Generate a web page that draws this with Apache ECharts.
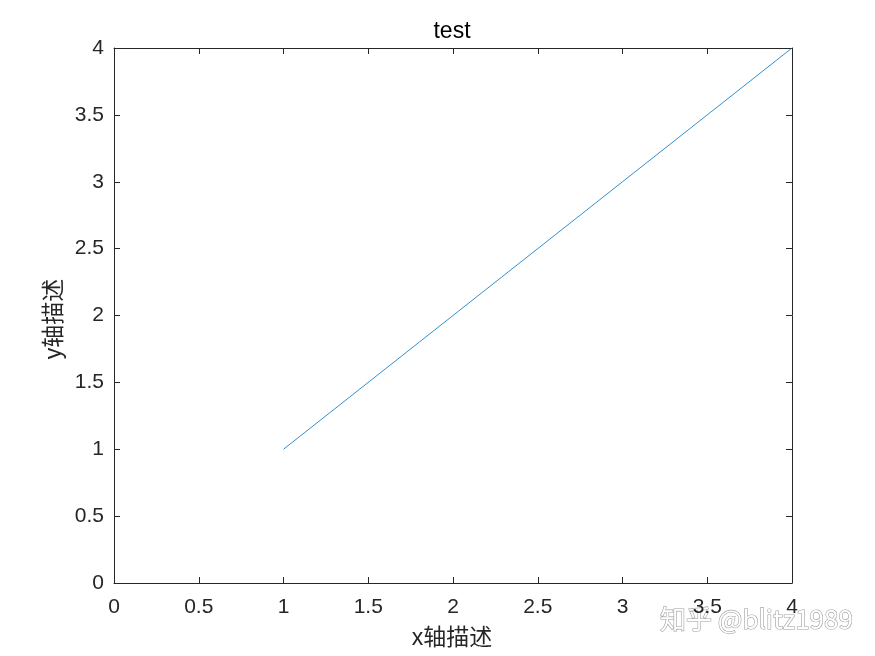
<!DOCTYPE html>
<html>
<head>
<meta charset="utf-8">
<script src="https://cdn.jsdelivr.net/npm/echarts@6/dist/echarts.min.js"></script>
<style>html,body{margin:0;padding:0;background:#fff;}#c{width:875px;height:656px;}</style>
</head>
<body>
<div id="c"></div>
<script>
var xValues = [1, 2, 3, 4];
var yValues = [1, 2, 3, 4];
var titleText = 'test';
var xName = 'x轴描述';
var yName = 'y轴描述';
var watermark = '知乎 @blitz1989';

var axisColor = '#262626';
var font = '"Liberation Sans", Arial, "Noto Sans CJK SC", sans-serif';

function axisBase(show) {
  return {
    type: 'value', min: 0, max: 4, interval: 0.5,
    axisLine: { show: true, onZero: false, lineStyle: { color: axisColor, width: 1 } },
    axisTick: { show: true, inside: true, length: 6, lineStyle: { color: axisColor, width: 1 } },
    axisLabel: { show: show, color: axisColor, fontSize: 21, fontFamily: font, margin: 10 },
    splitLine: { show: false }
  };
}
var xb = axisBase(true); xb.position = 'bottom';
var xt = axisBase(false); xt.position = 'top';
var yl = axisBase(true); yl.position = 'left';
var yr = axisBase(false); yr.position = 'right';
xb.axisLabel.margin = 14;

var chart = echarts.init(document.getElementById('c'));
chart.setOption({
  animation: false,
  backgroundColor: '#fff',
  grid: { left: 114, right: 83, top: 48, bottom: 73, containLabel: false },
  xAxis: [xb, xt],
  yAxis: [yl, yr],
  graphic: [
    { type: 'text', x: 452, y: 32, style: { text: titleText, fill: '#000', fontSize: 23, fontFamily: font, align: 'center', verticalAlign: 'middle' } },
    { type: 'text', x: 452, y: 639, style: { text: xName, fill: '#262626', fontSize: 23, fontFamily: font, align: 'center', verticalAlign: 'middle' } },
    { type: 'text', x: 55, y: 319, rotation: Math.PI / 2, style: { text: yName, fill: '#262626', fontSize: 23, fontFamily: font, align: 'center', verticalAlign: 'middle' } },
    { type: 'text', x: 660, y: 619, style: { text: watermark, fill: '#ffffff', stroke: '#a0a0a0', lineWidth: 1.2, fontSize: 26, fontFamily: '"Noto Sans CJK SC", sans-serif', verticalAlign: 'middle', shadowColor: 'rgba(0,0,0,0.35)', shadowOffsetX: 1, shadowOffsetY: 1, shadowBlur: 1 } }
  ],
  series: [{
    type: 'line', xAxisIndex: 0, yAxisIndex: 0,
    data: xValues.map(function (x, i) { return [x, yValues[i]]; }),
    showSymbol: false, symbol: 'none',
    lineStyle: { color: '#0072BD', width: 0.8 }
  }]
});
</script>
</body>
</html>
